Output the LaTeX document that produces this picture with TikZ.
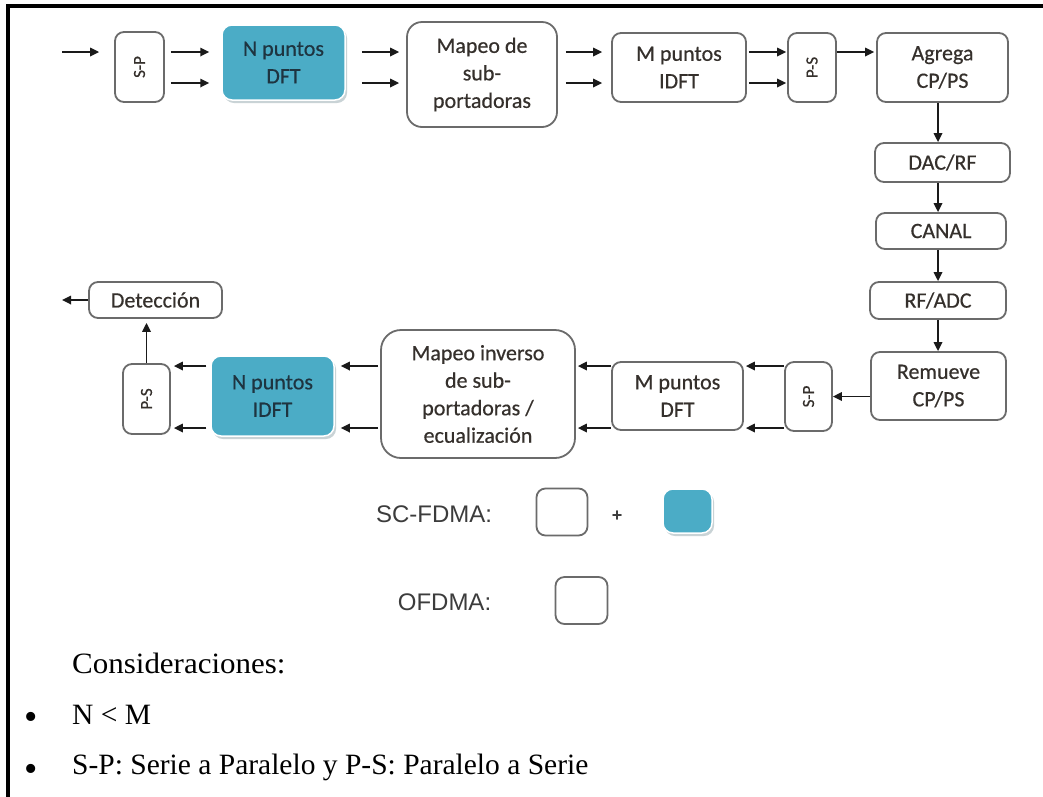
\documentclass[tikz,border=0pt]{standalone}
\usepackage{fontspec}
\setmainfont{Liberation Serif}
\newfontfamily\boxfont{Carlito}[FakeBold=0.5]
\newfontfamily\legfont{Liberation Sans}
\newfontfamily\notefont{Liberation Serif}
\usetikzlibrary{arrows.meta,shadows}

\definecolor{linegray}{HTML}{6B6B6B}
\definecolor{txtgray}{HTML}{35302C}
\definecolor{tealc}{HTML}{4BACC6}
\definecolor{tealtxt}{HTML}{1E3440}
\definecolor{shadowc}{HTML}{C9D3D6}
\definecolor{arrc}{HTML}{1A1A1A}
\definecolor{legtxt}{HTML}{3C3C3C}

\tikzset{
  blk/.style={draw=linegray, line width=1.8pt, rounded corners=9pt, fill=white,
    text=txtgray, font=\boxfont\fontsize{22}{27.5}\selectfont, align=center, inner sep=0pt},
  rotbox/.style={blk, font=\boxfont\fontsize{17}{21}\selectfont},
  tealbox/.style={fill=tealc, draw=white, line width=1.5pt, rounded corners=10pt,
    drop shadow={shadow xshift=2pt, shadow yshift=-3pt, fill=shadowc, opacity=1},
    text=tealtxt, font=\boxfont\fontsize{22}{27.5}\selectfont, align=center, inner sep=0pt},
  arr/.style={line width=1.7pt, draw=arrc, -{Triangle[length=9pt,width=8.5pt]}},
  legend/.style={font=\legfont\fontsize{24}{28}\selectfont, text=legtxt, inner sep=0pt},
  note/.style={font=\notefont\fontsize{29.5}{34}\selectfont, text=black, inner sep=0pt, anchor=west},
  bulletmark/.style={font=\notefont\fontsize{38}{40}\selectfont, text=black, inner sep=0pt}
}

\begin{document}
\begin{tikzpicture}[x=1pt,y=-1pt]
\useasboundingbox (0,0) rectangle (1043,796);
\fill[white] (0,0) rectangle (1043,796);

% frame (top and left edges)
\draw[line width=3.5pt, line cap=rect] (1043,6) -- (8,6) -- (8,796);

% row levels for the parallel arrow pairs
\coordinate (ya) at (0,52);
\coordinate (yb) at (0,83);
\coordinate (yc) at (0,366);
\coordinate (yd) at (0,428);
\coordinate (colx) at (938,0);
\coordinate (inp) at (62,52);
\coordinate (outp) at (62,300);

% ---------- transmitter ----------
\node[rotbox, minimum width=49pt, minimum height=70pt] (sp1) at (139.5,67) {\rotatebox{90}{S-P}};
\node[tealbox, minimum width=123pt, minimum height=75pt] (dft1) at (283.5,62.5) {N puntos\\DFT};
\node[blk, rounded corners=15pt, minimum width=150pt, minimum height=105pt] (map1) at (482,74.5) {Mapeo de\\sub-\\portadoras};
\node[blk, minimum width=134pt, minimum height=69pt] (idft1) at (679,67.5) {M puntos\\IDFT};
\node[rotbox, minimum width=48pt, minimum height=69pt] (ps1) at (812,67.5) {\rotatebox{90}{P-S}};
\node[blk, minimum width=131pt, minimum height=69pt] (agr) at (942.5,67.5) {Agrega\\CP/PS};

% ---------- channel column ----------
\node[blk, minimum width=135pt, minimum height=39pt] (dac) at (942.5,162.5) {DAC/RF};
\node[blk, minimum width=130pt, minimum height=36pt] (canal) at (941,231) {CANAL};
\node[blk, minimum width=136pt, minimum height=37pt] (rfadc) at (938,300.5) {RF/ADC};
\node[blk, minimum width=135pt, minimum height=68pt] (rem) at (938.5,386) {Remueve\\CP/PS};

% ---------- receiver ----------
\node[rotbox, minimum width=47pt, minimum height=69pt] (sp2) at (808.5,396.5) {\rotatebox{90}{S-P}};
\node[blk, minimum width=131pt, minimum height=68pt] (dft2) at (677.5,396) {M puntos\\DFT};
\node[blk, rounded corners=20pt, minimum width=194pt, minimum height=128pt] (map2) at (478,394) {Mapeo inverso\\de sub-\\portadoras /\\ecualización};
\node[tealbox, minimum width=123pt, minimum height=80pt] (idft2) at (272.5,396) {N puntos\\IDFT};
\node[rotbox, minimum width=47pt, minimum height=70pt] (ps2) at (146.5,399) {\rotatebox{90}{P-S}};
\node[blk, minimum width=133pt, minimum height=36pt] (det) at (155.5,300) {Detección};

% ---------- transmitter arrows ----------
\draw[arr, shorten >=15pt] (inp) -- (sp1.west |- ya);
\foreach \r in {ya,yb} {
  \draw[arr, shorten <=6pt, shorten >=12pt] (sp1.east |- \r) -- (dft1.west |- \r);
  \draw[arr, shorten <=16pt, shorten >=7pt] (dft1.east |- \r) -- (map1.west |- \r);
  \draw[arr, shorten <=8pt, shorten >=9pt] (map1.east |- \r) -- (idft1.west |- \r);
  \draw[arr, shorten <=2pt, shorten >=1pt] (idft1.east |- \r) -- (ps1.west |- \r);
}
\draw[arr, shorten >=2pt] (ps1.east |- ya) -- (agr.west |- ya);

% ---------- channel arrows ----------
\draw[arr] (agr.south -| colx) -- (dac.north -| colx);
\draw[arr] (dac.south -| colx) -- (canal.north -| colx);
\draw[arr] (canal.south -| colx) -- (rfadc.north -| colx);
\draw[arr] (rfadc.south -| colx) -- (rem.north -| colx);
\draw[arr] (rem.west |- sp2.east) -- (sp2.east);

% ---------- receiver arrows ----------
\foreach \r in {yc,yd} {
  \draw[arr, shorten >=2pt] (sp2.west |- \r) -- (dft2.east |- \r);
  \draw[arr, shorten >=2pt] (dft2.west |- \r) -- (map2.east |- \r);
  \draw[arr, shorten <=2pt, shorten >=6pt] (map2.west |- \r) -- (idft2.east |- \r);
  \draw[arr, shorten <=4pt, shorten >=3pt] (idft2.west |- \r) -- (ps2.east |- \r);
}
\draw[arr, shorten >=4pt] (ps2.north) -- (det.south -| ps2.north);
\draw[arr] (det.west) -- (outp);

% ---------- legend ----------
\node[legend] (lsc) at (434,514) {SC-FDMA:};
\node[blk, rounded corners=9pt, minimum width=51pt, minimum height=47pt] (lw1) at (562,512) {};
\node[legend, font=\legfont\bfseries\fontsize{18}{20}\selectfont] (lplus) at (617,516) {+};
\node[tealbox, minimum width=49pt, minimum height=44pt] (lt1) at (687.5,511) {};
\node[legend] (lof) at (444.5,602) {OFDMA:};
\node[blk, rounded corners=9pt, minimum width=52pt, minimum height=47pt] (lw2) at (581.5,600.5) {};

% ---------- notes ----------
\node[note, xscale=1.05] (cons) at (72,663) {Consideraciones:};
\node[bulletmark] (b1) at (31,721) {•};
\node[note] (n1) at (72,715) {N < M};
\node[bulletmark] (b2) at (31,773) {•};
\node[note] (n2) at (72,767) {S-P: Serie a Paralelo y P-S: Paralelo a Serie};
\end{tikzpicture}
\end{document}
